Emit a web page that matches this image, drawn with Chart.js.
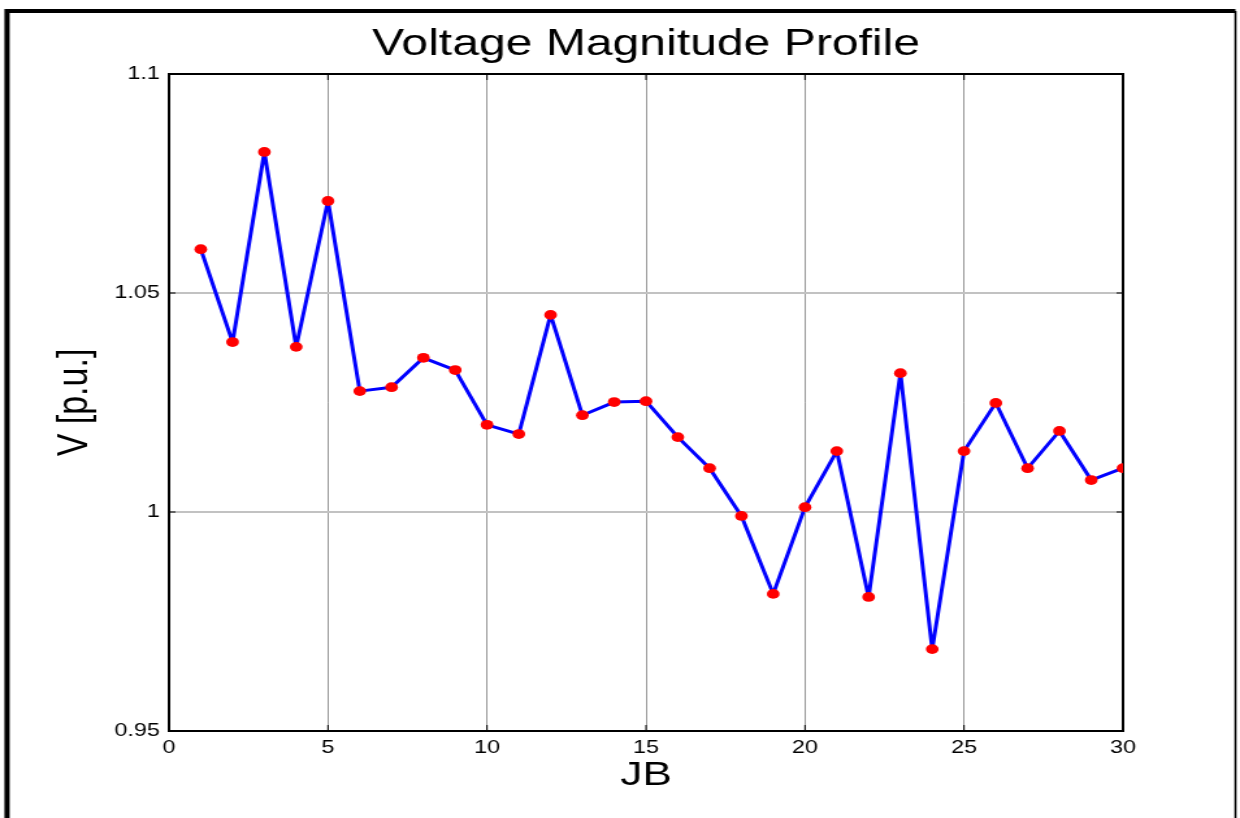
<!doctype html>
<html lang="en">
  <head>
    <meta charset="UTF-8" />
    <title>Voltage Magnitude Profile</title>
    <script src="https://cdn.jsdelivr.net/npm/chart.js"></script>
    <style>
      html,
      body {
        margin: 0;
        padding: 0;
        background: #ffffff;
        overflow: hidden;
      }

      /* the original figure is stretched sideways, so the canvas is too */
      .stretch {
        width: 954px;
        height: 818px;
        transform: scaleX(1.29979);
        transform-origin: 0 0;
      }
    </style>
  </head>
  <body>
    <div class="stretch">
      <canvas id="profileChart" width="954" height="818"></canvas>
    </div>

    <script>
      const busNumbers = [
        1, 2, 3, 4, 5, 6, 7, 8, 9, 10, 11, 12, 13, 14, 15,
        16, 17, 18, 19, 20, 21, 22, 23, 24, 25, 26, 27, 28, 29, 30
      ];
      const voltages = [
        1.060, 1.0388, 1.0822, 1.0377, 1.071, 1.0276, 1.0285, 1.0352, 1.0324, 1.0199,
        1.0178, 1.045, 1.0221, 1.0251, 1.0253, 1.0171, 1.010, 0.9991, 0.9813, 1.0011,
        1.0139, 0.9806, 1.0317, 0.9687, 1.0139, 1.0249, 1.010, 1.0185, 1.0073, 1.010
      ];
      const xTicks = [0, 5, 10, 15, 20, 25, 30];
      const yTicks = [0.95, 1, 1.05, 1.1];

      const font = "'Liberation Sans', Arial, sans-serif";

      // outer figure frame, plot box and the small inward tick marks
      const framePlugin = {
        id: "frame",
        beforeDatasetsDraw(chart) {
          const { ctx, chartArea: a, scales } = chart;
          ctx.save();
          ctx.strokeStyle = "#000";

          ctx.lineWidth = 4;
          ctx.beginPath();
          ctx.moveTo(5.4, 830);
          ctx.lineTo(5.4, 11);
          ctx.lineTo(950.5, 11);
          ctx.stroke();
          ctx.lineWidth = 1.6;
          ctx.beginPath();
          ctx.moveTo(950.5, 11);
          ctx.lineTo(950.5, 830);
          ctx.stroke();

          ctx.lineWidth = 1;
          scales.x.ticks.forEach((t) => {
            const px = scales.x.getPixelForValue(t.value);
            ctx.beginPath();
            ctx.moveTo(px, a.bottom);
            ctx.lineTo(px, a.bottom - 6);
            ctx.moveTo(px, a.top);
            ctx.lineTo(px, a.top + 6);
            ctx.stroke();
          });
          scales.y.ticks.forEach((t) => {
            const py = scales.y.getPixelForValue(t.value);
            ctx.beginPath();
            ctx.moveTo(a.left, py);
            ctx.lineTo(a.left + 5, py);
            ctx.moveTo(a.right, py);
            ctx.lineTo(a.right - 5, py);
            ctx.stroke();
          });

          ctx.lineWidth = 2;
          ctx.strokeRect(a.left, a.top, a.right - a.left, a.bottom - a.top);
          ctx.restore();
        }
      };

      const ctx = document.getElementById("profileChart").getContext("2d");
      const profileChart = new Chart(ctx, {
        type: "line",
        data: {
          datasets: [
            {
              label: "V",
              data: busNumbers.map((b, i) => ({ x: b, y: voltages[i] })),
              borderColor: "#0000ff",
              borderWidth: 3,
              borderJoinStyle: "round",
              backgroundColor: "#ff0000",
              pointBackgroundColor: "#ff0000",
              pointBorderWidth: 0,
              pointRadius: 4.9,
              tension: 0,
              fill: false
            }
          ]
        },
        options: {
          responsive: false,
          animation: false,
          devicePixelRatio: 1,
          layout: {
            padding: { left: 0, right: 90, top: 0, bottom: 0 }
          },
          plugins: {
            legend: { display: false },
            tooltip: { enabled: false },
            title: {
              display: true,
              text: "Voltage Magnitude Profile",
              fullSize: false,
              color: "#000",
              font: { family: font, size: 37, weight: "normal" },
              padding: { top: 23, bottom: 6.6 }
            }
          },
          scales: {
            x: {
              type: "linear",
              min: 0,
              max: 30,
              afterBuildTicks: (s) => {
                s.ticks = xTicks.map((v) => ({ value: v }));
              },
              afterFit: (s) => {
                s.height = 87;
              },
              ticks: {
                color: "#000",
                maxRotation: 0,
                autoSkip: false,
                padding: 6,
                font: { family: font, size: 18 },
                callback: (v) => String(v)
              },
              grid: {
                drawTicks: false,
                color: (c) =>
                  c.tick && (c.tick.value === 0 || c.tick.value === 30)
                    ? "rgba(0,0,0,0)"
                    : "rgba(40,40,40,0.8)",
                lineWidth: 0.6
              },
              border: { display: false },
              title: {
                display: true,
                text: "JB",
                color: "#000",
                font: { family: font, size: 34 },
                padding: { top: 0, bottom: 22 }
              }
            },
            y: {
              type: "linear",
              min: 0.95,
              max: 1.1,
              afterBuildTicks: (s) => {
                s.ticks = yTicks.map((v) => ({ value: v }));
              },
              afterFit: (s) => {
                s.width = 130;
              },
              ticks: {
                color: "#000",
                padding: 7,
                font: { family: font, size: 18 },
                callback: (v) => String(v)
              },
              grid: {
                drawTicks: false,
                color: (c) =>
                  c.tick && (c.tick.value === 0.95 || c.tick.value === 1.1)
                    ? "rgba(0,0,0,0)"
                    : "#c2c2c2",
                lineWidth: 2
              },
              border: { display: false },
              title: {
                display: true,
                text: "V [p.u.]",
                color: "#000",
                font: { family: font, size: 34 },
                padding: { top: 37, bottom: 0 }
              }
            }
          }
        },
        plugins: [framePlugin]
      });
    </script>
  </body>
</html>
